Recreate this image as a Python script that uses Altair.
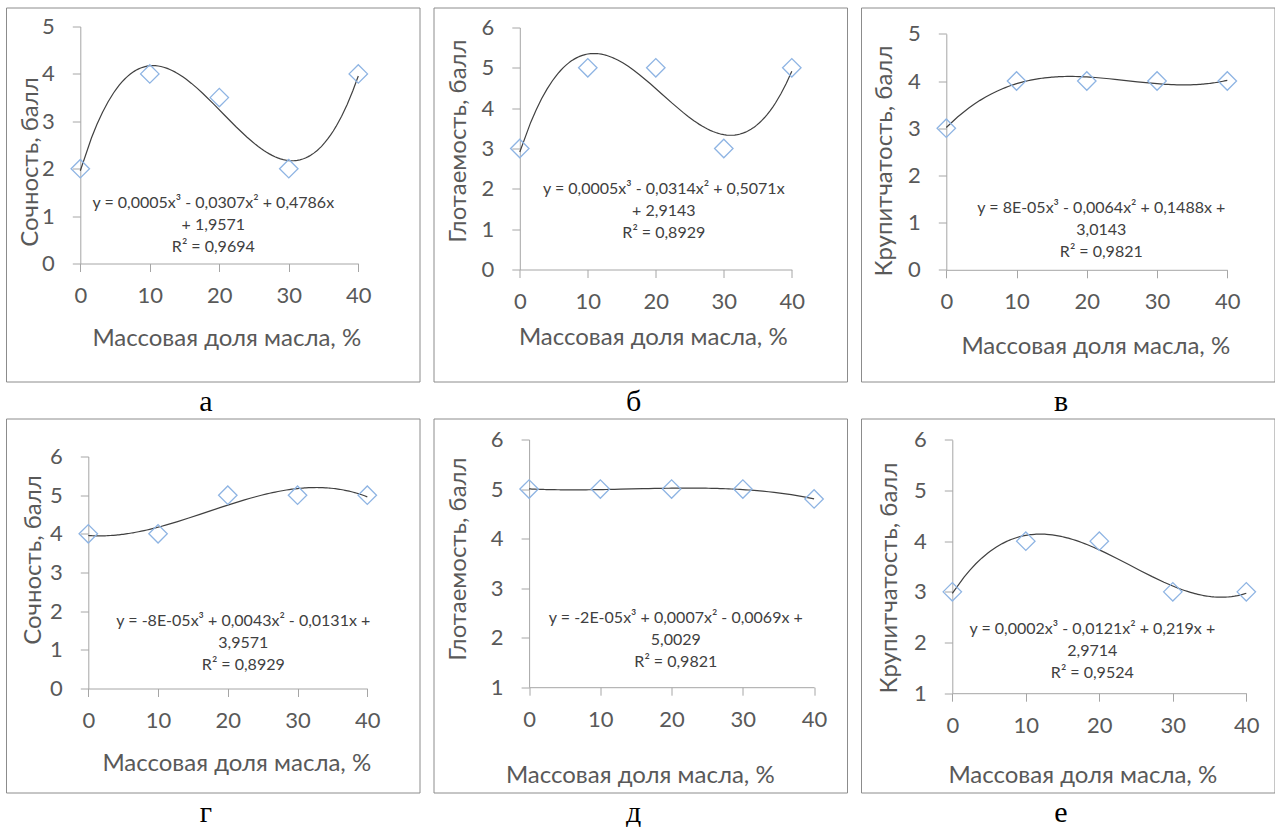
import altair as alt
import pandas as pd

# ---- data ----
x_values = [0, 10, 20, 30, 40]
sochnost_a = [2, 4, 3.5, 2, 4]
glotaemost_b = [3, 5, 5, 3, 5]
krupitchatost_v = [3, 4, 4, 4, 4]
sochnost_g = [4, 4, 5, 5, 5]
glotaemost_d = [5, 5, 5, 5, 4.8]
krupitchatost_e = [3, 4, 4, 3, 3]

series = [sochnost_a, glotaemost_b, krupitchatost_v, sochnost_g, glotaemost_d, krupitchatost_e]
y_titles = ["Сочность, балл", "Глотаемость, балл", "Крупитчатость, балл",
            "Сочность, балл", "Глотаемость, балл", "Крупитчатость, балл"]
x_title = "Массовая доля масла, %"
captions = ["а", "б", "в", "г", "д", "е"]
y_domains = [[0, 5], [0, 6], [0, 5], [0, 6], [1, 6], [1, 6]]
equations = [
    "y = 0,0005x³ - 0,0307x² + 0,4786x\n+ 1,9571\nR² = 0,9694",
    "y = 0,0005x³ - 0,0314x² + 0,5071x\n+ 2,9143\nR² = 0,8929",
    "y = 8E-05x³ - 0,0064x² + 0,1488x +\n3,0143\nR² = 0,9821",
    "y = -8E-05x³ + 0,0043x² - 0,0131x +\n3,9571\nR² = 0,8929",
    "y = -2E-05x³ + 0,0007x² - 0,0069x +\n5,0029\nR² = 0,9821",
    "y = 0,0002x³ - 0,0121x² + 0,219x +\n2,9714\nR² = 0,9524",
]

# ---- layout (pixels inside each panel box) ----
PW, PH = 413.5, 374
layout = [
    # x0, x1, y_bottom, y_top, yTitleX, yTitleY, xTitleX, xTitleY, eqX, eqY(first line)
    (74.3, 352.3, 256.0, 19.0, -50, 154, 220.3, 75, 207.3, 195),
    (86.3, 358.3, 262.0, 20.0, -61, 133, 219.3, 68, 230.3, 181),
    (85.3, 366.3, 262.3, 26.3, -62, 153, 234.3, 77, 240.3, 200),
    (82.3, 361.3, 270.0, 38.0, -55, 141, 230.3, 75, 237.3, 202),
    (95.6, 380.6, 268.7, 21.0, -71, 140, 206.3, 88, 242.3, 199),
    (91.3, 385.3, 274.7, 21.3, -63, 159, 221.3, 82, 231.3, 210),
]

FONT = "Lato"
TXT = "#595959"
AX = "#a6a6a6"


def panel(i):
    x0, x1, yb, yt, ytx, yty, xtx, xty, ex, ey = layout[i]
    df = pd.DataFrame({"x": x_values, "y": series[i]})
    lo, hi = y_domains[i]
    xenc = alt.X(
        "x:Q",
        scale=alt.Scale(domain=[0, 40], range=[x0, x1], nice=False, zero=False),
        axis=alt.Axis(
            values=x_values, grid=False, offset=yb - PH,
            domainColor=AX, tickColor=AX, tickSize=8, tickWidth=1,
            labelFont=FONT, labelFontSize=22, labelColor=TXT, labelPadding=14,
            labelFlush=False, labelOverlap=False,
            title=x_title, titleFont=FONT, titleFontSize=24, titleFontWeight="normal",
            titleColor=TXT, titleX=xtx, titleY=xty, titleAlign="center",
            titleBaseline="middle",
        ),
    )
    yenc = alt.Y(
        "y:Q",
        scale=alt.Scale(domain=[lo, hi], range=[yb, yt], nice=False, zero=False),
        axis=alt.Axis(
            values=list(range(lo, hi + 1)), grid=False, offset=-x0,
            domainColor=AX, tickColor=AX, tickSize=8, tickWidth=1,
            labelFont=FONT, labelFontSize=22, labelColor=TXT, labelPadding=18,
            labelFlush=False, labelOverlap=False,
            title=y_titles[i], titleFont=FONT, titleFontSize=24, titleFontWeight="normal",
            titleColor=TXT, titleX=ytx, titleY=yty, titleAngle=270, titleAlign="center",
            titleBaseline="middle",
        ),
    )
    base = alt.Chart(df).encode(x=xenc, y=yenc)
    pts = base.mark_point(shape="diamond", filled=False, size=340,
                          stroke="#8EB4E3", strokeWidth=1.3, opacity=1)
    line = base.transform_regression(
        on="x", regression="y", method="poly", order=3, extent=[0, 40]
    ).mark_line(color="#404040", strokeWidth=1.2)
    eq = alt.Chart(pd.DataFrame({"t": [equations[i]]})).mark_text(
        font=FONT, fontSize=16, color="#404040", lineBreak="\n", lineHeight=22,
        align="center", baseline="middle",
    ).encode(text="t:N", x=alt.value(ex), y=alt.value(ey))
    cap = alt.Chart(pd.DataFrame({"t": [captions[i]]})).mark_text(
        font="Liberation Serif", fontSize=30, color="black",
        align="center", baseline="alphabetic",
    ).encode(text="t:N", x=alt.value(200), y=alt.value(403))
    return alt.layer(line, pts, eq, cap).properties(width=PW, height=PH)


chart = alt.concat(
    *[panel(i) for i in range(6)],
    columns=3,
    spacing={"row": 37, "column": 13.5},
    bounds="flush",
).configure_view(
    stroke="#8c8c8c", strokeWidth=1
).properties(
    padding={"left": 5, "top": 6.5, "right": 0, "bottom": 0},
    background="white",
)

chart.save("out.html", embed_options={"renderer": "svg", "actions": False})
